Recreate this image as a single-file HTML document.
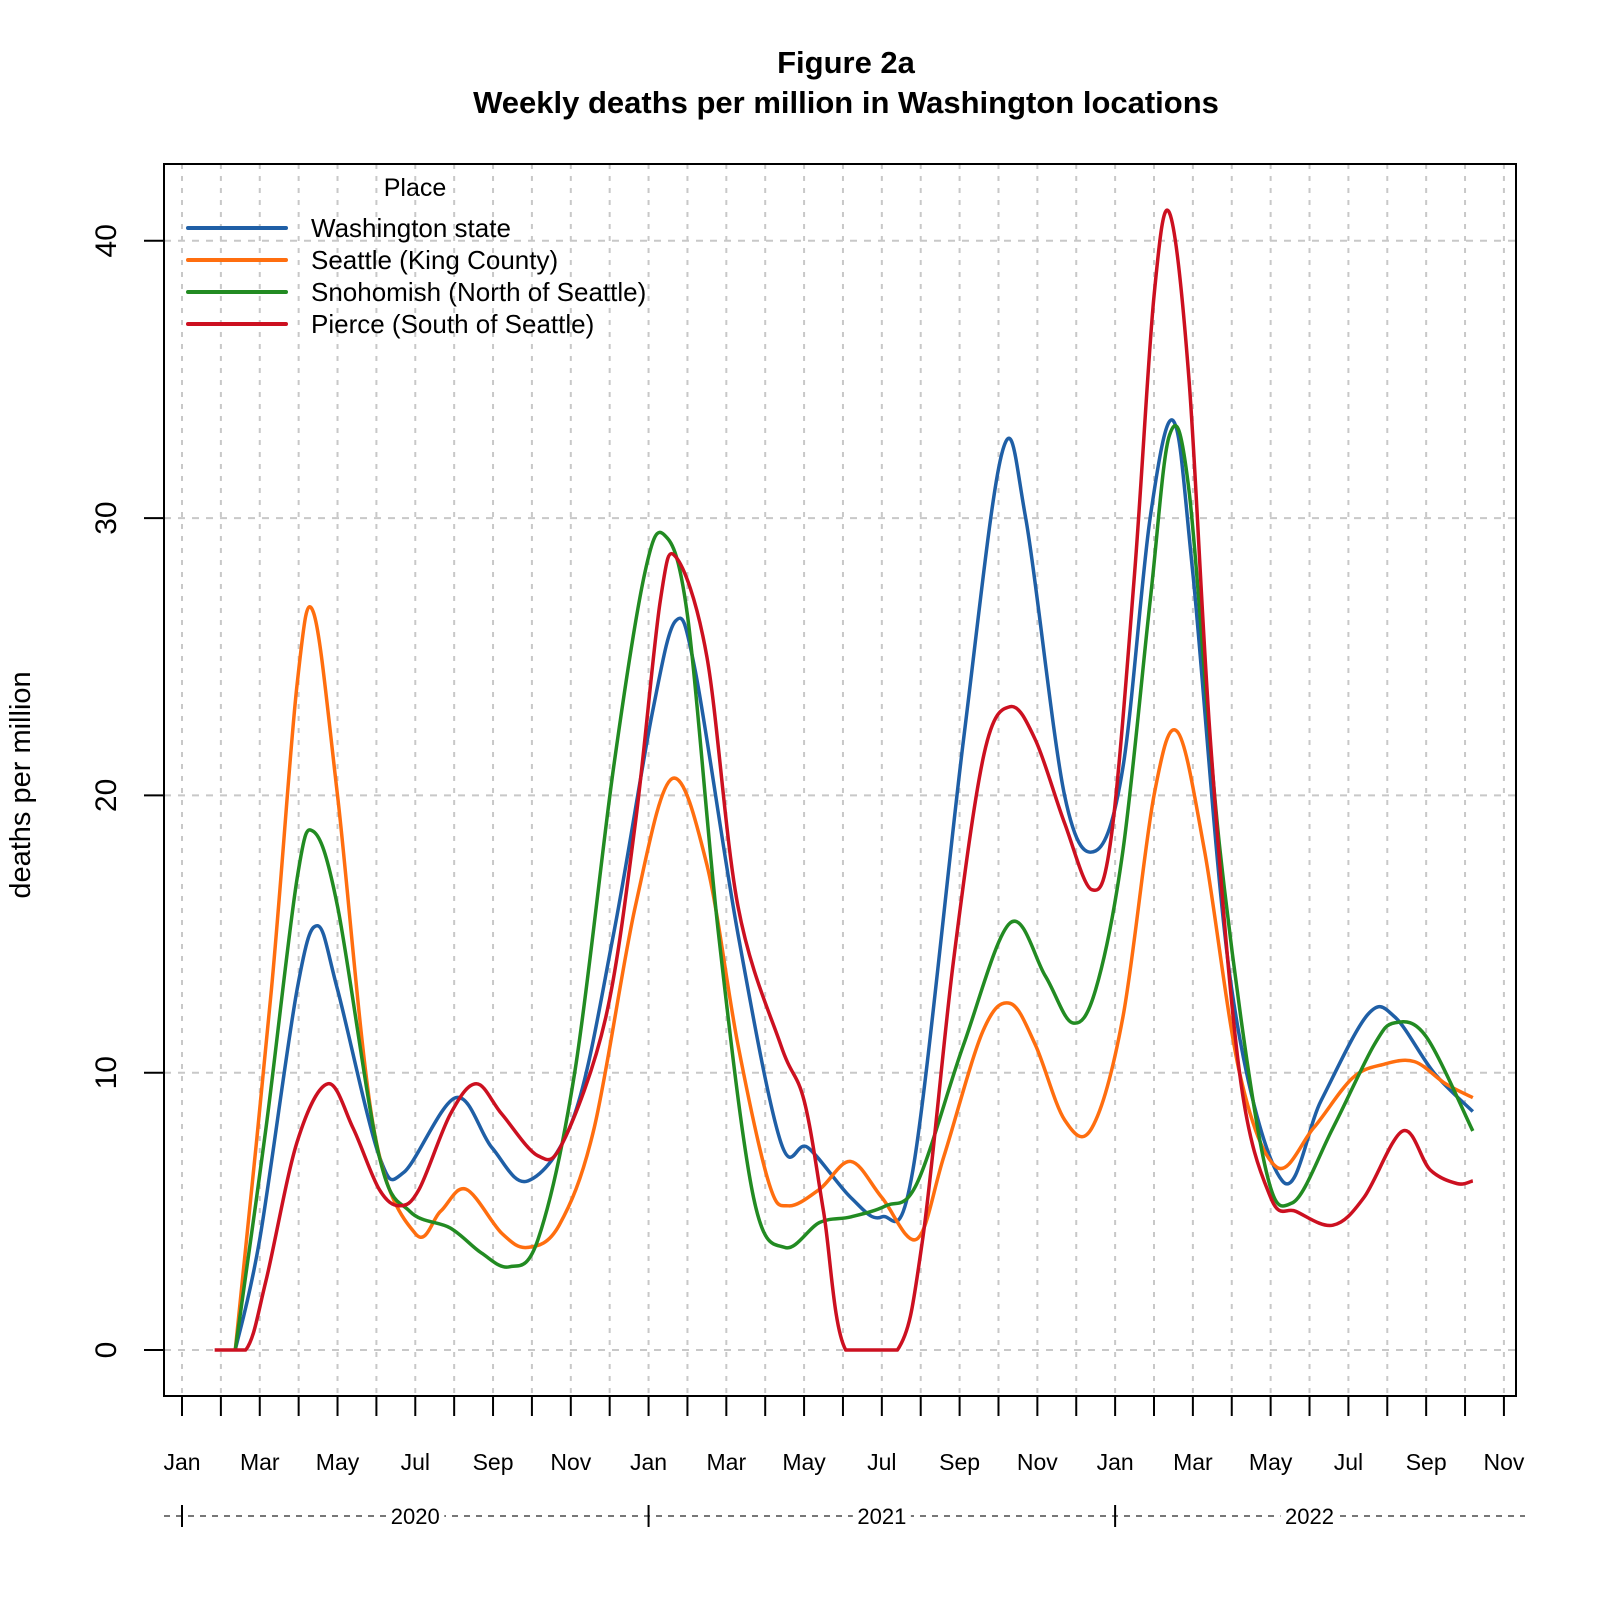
<!DOCTYPE html>
<html><head><meta charset="utf-8"><style>
body{margin:0;background:#fff}
svg{display:block;font-family:"Liberation Sans",Arial,sans-serif}
</style></head><body>
<svg id="chart" width="1600" height="1600" viewBox="0 0 1600 1600">
<text x="846" y="73" text-anchor="middle" font-size="31" font-weight="bold">Figure 2a</text>
<text x="846" y="113" text-anchor="middle" font-size="31" font-weight="bold">Weekly deaths per million in Washington locations</text>
<g id="grid"></g>
<g id="series"></g>
<rect x="164" y="164" width="1352" height="1232" fill="none" stroke="#000" stroke-width="2"/>
<g id="axes"></g>
<text transform="translate(30,785) rotate(-90)" text-anchor="middle" font-size="29">deaths per million</text>
<g id="legend">
<text x="415" y="196" text-anchor="middle" font-size="25">Place</text>
</g>
</svg>
<script>
const months=["Jan","Feb","Mar","Apr","May","Jun","Jul","Aug","Sep","Oct","Nov","Dec"];
const yTicks=[0,10,20,30,40];
const years=["2020","2021","2022"];
const seriesNames=["Washington state","Seattle (King County)","Snohomish (North of Seattle)","Pierce (South of Seattle)"];
const seriesColors=["#1f5fa6","#ff6e0f","#228b22","#cc1020"];
// x: months since Jan 2020, y: deaths per million
const waX=[1.37,2.0,2.96,3.48,4.0,5.07,5.7,7.04,7.97,8.9,10.1,11.1,12.1,12.7,13.2,14.3,15.4,16.1,17.2,18.0,18.8,20.1,21.1,21.7,22.7,23.5,24.2,24.9,25.5,26.0,27.0,28.3,29.3,30.5,31.2,32.2,33.2];
const waY=[0,4,13,15.3,13,7,6.4,9.1,7.3,6.1,8.5,15,23,26.3,24.5,15,7.5,7.3,5.5,4.8,6.5,22,32.4,30,20,18,21,30,33.5,28,13,6.1,9,12.1,12,10,8.6];
const seX=[1.37,2.3,2.96,3.38,4.0,4.93,6.0,6.65,7.3,8.23,8.9,9.7,10.6,11.66,12.6,13.5,14.3,15.1,15.6,16.4,17.2,18.0,18.9,19.6,20.6,21.3,21.95,22.7,23.4,24.2,25.0,25.6,26.3,27.2,28.15,29.1,30.1,30.9,31.7,32.5,33.2];
const seY=[0,13,24,26.6,20,8,4.2,5,5.8,4.2,3.7,4.5,8,16,20.6,17.5,11,6,5.2,5.8,6.8,5.5,4,7,11.5,12.5,11,8.3,8,12,20,22.3,18,10,6.6,8,9.8,10.3,10.4,9.6,9.1];
const snX=[1.37,2.16,2.96,3.38,4.0,5.07,5.86,6.9,7.7,8.42,9.16,10.1,11.1,11.9,12.4,13.0,13.8,14.7,15.5,16.4,17.2,18.1,18.9,20.1,21.3,22.2,22.9,23.5,24.2,24.9,25.4,25.9,26.7,27.8,28.55,29.6,30.66,31.2,32.0,33.2];
const snY=[0,8,17,18.7,16,7,5,4.4,3.5,3,4,10,21,28,29.4,26.5,15,5.5,3.7,4.6,4.8,5.2,6,11,15.4,13.5,11.8,13,18,27,33,31,18,7,5.3,8,11,11.8,11.3,7.9];
const piX=[0.84,1.64,2.16,2.96,3.75,4.4,5.07,5.6,6.1,6.9,7.57,8.23,9.16,9.8,10.9,11.66,12.3,12.7,13.5,14.3,15.4,16.0,16.5,17.07,18.4,19.05,19.84,20.63,21.3,21.95,22.7,23.4,23.9,24.5,25.0,25.4,25.9,26.45,27.2,28.0,28.65,29.6,30.4,31.4,32.1,32.8,33.2];
const piY=[0,0,2.5,7.5,9.6,8,5.8,5.2,5.8,8.5,9.6,8.5,7,7.5,12,19,27,28.6,25,16,11,9,5,0,0,4,14,21.5,23.2,22,19,16.6,18.5,28,38,41,35,22,10,5.5,5,4.5,5.5,7.9,6.5,6,6.1];
const allX=[waX,seX,snX,piX], allY=[waY,seY,snY,piY];

const NS="http://www.w3.org/2000/svg";
const x0=182,pxM=38.88,y0=1350,pxU=27.73;
const xs=m=>x0+m*pxM, ys=v=>y0-v*pxU;
function mk(tag,attrs,parent){const e=document.createElementNS(NS,tag);for(const k in attrs)e.setAttribute(k,attrs[k]);parent.appendChild(e);return e;}
const grid=document.getElementById('grid'),axes=document.getElementById('axes'),ser=document.getElementById('series'),leg=document.getElementById('legend');
for(let m=0;m<=34;m++){
  const g=mk('line',{x1:xs(m),x2:xs(m),y1:164,y2:1396,stroke:'#c8c8c8','stroke-width':2,'stroke-dasharray':'5,7'},grid);
  
  
  const t=mk('line',{x1:xs(m),x2:xs(m),y1:1396,y2:1416,stroke:'#000','stroke-width':2},axes);
  
  
  if(m%2===0){
    const l=mk('text',{x:xs(m),y:1470,'text-anchor':'middle','font-size':23},axes);
    l.textContent=months[m%12];
    
    
  }
}
yTicks.forEach(v=>{
  const g=mk('line',{x1:164,x2:1516,y1:ys(v),y2:ys(v),stroke:'#c8c8c8','stroke-width':2,'stroke-dasharray':'7,7'},grid);
  
  
  const t=mk('line',{x1:144,x2:164,y1:ys(v),y2:ys(v),stroke:'#000','stroke-width':2},axes);
  
  
  const l=mk('text',{transform:`translate(116,${ys(v)}) rotate(-90)`,'text-anchor':'middle','font-size':30},axes);
  l.textContent=v;
  
  
});
const yl=mk('line',{x1:164,x2:1525,y1:1516,y2:1516,stroke:'#777','stroke-width':2,'stroke-dasharray':'6,6'},axes);


years.forEach((y,i)=>{
  const t=mk('line',{x1:xs(i*12),x2:xs(i*12),y1:1505,y2:1527,stroke:'#000','stroke-width':2},axes);
  
  
  const cx=i<2?xs(i*12+6):xs(29);
  const bg=mk('rect',{x:cx-29,y:1503,width:58,height:26,fill:'#fff'},axes);
  
  
  const l=mk('text',{x:cx,y:1524,'text-anchor':'middle','font-size':22},axes);
  l.textContent=y;
  
  
});
function path(X,Y){
  const p=X.map((m,i)=>[xs(m),ys(Y[i])]);
  let d=`M${p[0][0]},${p[0][1]}`;
  for(let i=0;i<p.length-1;i++){
    const a=p[Math.max(0,i-1)],b=p[i],c=p[i+1],e=p[Math.min(p.length-1,i+2)];
    let c1y=b[1]+(c[1]-a[1])/6, c2y=c[1]-(e[1]-b[1])/6;
    c1y=Math.min(c1y,y0);c2y=Math.min(c2y,y0);
    d+=` C${b[0]+(c[0]-a[0])/6},${c1y} ${c[0]-(e[0]-b[0])/6},${c2y} ${c[0]},${c[1]}`;
  }
  return d;
}
allX.forEach((X,i)=>{
  const p=mk('path',{d:path(X,allY[i]),fill:'none',stroke:seriesColors[i],'stroke-width':3.5,'stroke-linejoin':'round'},ser);
  
  
  const ly=228+i*32;
  const ll=mk('line',{x1:188,x2:286,y1:ly,y2:ly,stroke:seriesColors[i],'stroke-width':4,'stroke-linecap':'round'},leg);
  
  
  const lt=mk('text',{x:311,y:ly+9,'font-size':26},leg);
  lt.textContent=seriesNames[i];
  
  
});
</script>
</body></html>
